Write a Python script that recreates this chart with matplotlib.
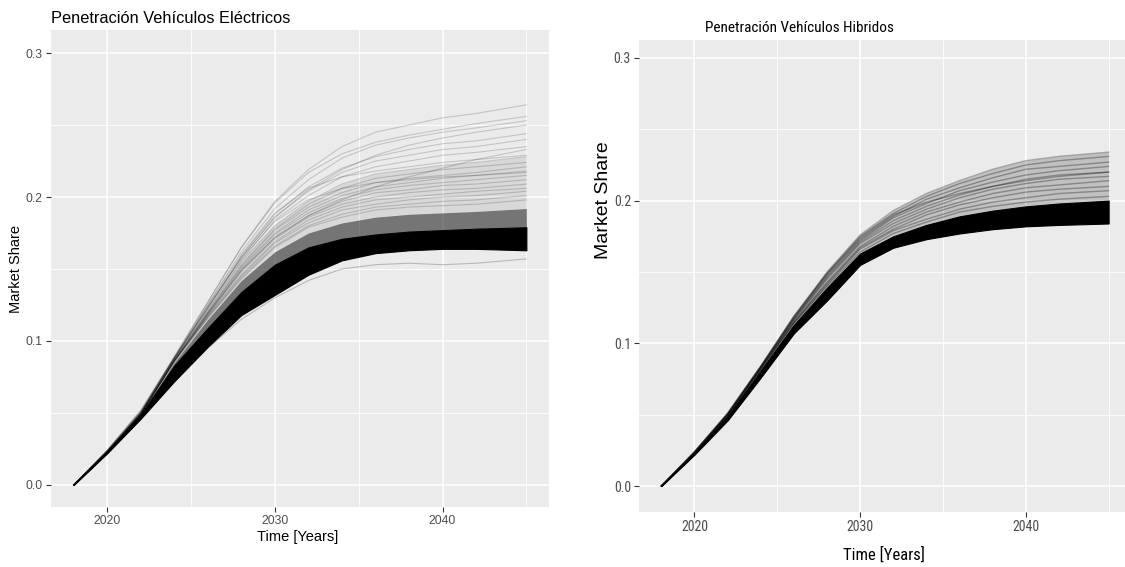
import matplotlib.pyplot as plt

W, H = 1125, 567

years = [2018, 2020, 2022, 2024, 2026, 2028, 2030, 2032, 2034, 2036, 2038, 2040, 2042, 2045]

# electric vehicles: edges of the dense black core and of the dark grey zone above it
ev_low = [0, .022, .046, .072, .096, .118, .132, .146, .156, .161, .163, .164, .164, .163]
ev_core = [0, .023, .049, .083, .109, .134, .153, .165, .171, .174, .176, .177, .178, .179]
ev_dense = [0, .023, .049, .085, .115, .142, .162, .175, .182, .186, .188, .189, .190, .192]
ev_mid = [0, .023, .050, .087, .122, .156, .181, .197, .209, .216, .219, .222, .224, .228]
ev_outlier = [0, .022, .046, .072, .095, .115, .130, .142, .150, .153, .154, .153, .154, .157]
ev_paths = [
    [0, .024, .052, .089, .127, .165, .197, .219, .235, .245, .250, .255, .258, .264],
    [0, .024, .051, .089, .127, .165, .196, .217, .230, .238, .243, .247, .251, .256],
    [0, .024, .051, .088, .125, .162, .192, .212, .227, .236, .241, .245, .248, .253],
    [0, .023, .050, .088, .123, .158, .186, .205, .219, .229, .236, .241, .245, .250],
    [0, .023, .050, .088, .123, .159, .188, .207, .220, .228, .233, .237, .239, .244],
    [0, .023, .050, .088, .123, .158, .186, .204, .217, .225, .229, .233, .235, .240],
    [0, .023, .050, .087, .122, .156, .184, .201, .214, .221, .225, .229, .231, .235],
    [0, .023, .050, .088, .125, .160, .189, .206, .214, .218, .221, .224, .226, .229],
    [0, .023, .050, .087, .121, .155, .180, .197, .209, .216, .219, .222, .224, .228],
    [0, .023, .049, .087, .120, .153, .178, .195, .206, .213, .216, .219, .221, .224],
    [0, .023, .049, .087, .120, .152, .177, .193, .203, .210, .213, .215, .217, .221],
    [0, .023, .049, .086, .119, .151, .175, .191, .201, .207, .210, .213, .215, .218],
    [0, .023, .049, .086, .119, .150, .174, .189, .199, .205, .208, .210, .212, .215],
    [0, .023, .049, .086, .118, .149, .172, .187, .197, .203, .205, .208, .209, .212],
    [0, .023, .049, .086, .118, .148, .171, .186, .195, .200, .203, .205, .206, .209],
    [0, .023, .049, .086, .117, .146, .169, .184, .193, .198, .200, .202, .204, .206],
    [0, .023, .049, .086, .117, .145, .168, .182, .191, .195, .198, .200, .201, .204],
    [0, .023, .049, .086, .116, .144, .166, .180, .188, .193, .195, .197, .198, .201],
    [0, .023, .049, .085, .116, .143, .165, .179, .186, .191, .193, .194, .195, .198],
    [0, .023, .049, .086, .119, .149, .172, .187, .198, .207, .214, .220, .226, .233],
    [0, .024, .051, .088, .124, .157, .183, .198, .206, .210, .212, .214, .215, .217],
]

# hybrid vehicles
hy_low = [0, .022, .046, .076, .107, .130, .155, .167, .173, .177, .180, .182, .183, .184]
hy_core = [0, .023, .049, .081, .113, .139, .163, .175, .183, .189, .193, .196, .198, .200]
hy_paths = [
    [0, .024, .051, .084, .119, .150, .176, .193, .205, .214, .222, .228, .231, .234],
    [0, .024, .051, .084, .118, .149, .175, .191, .203, .212, .219, .225, .228, .231],
    [0, .024, .050, .083, .118, .148, .173, .189, .201, .209, .216, .222, .224, .227],
    [0, .023, .050, .083, .117, .147, .172, .188, .198, .207, .213, .218, .221, .224],
    [0, .023, .050, .083, .117, .146, .171, .186, .196, .204, .210, .215, .218, .220],
    [0, .023, .050, .083, .116, .145, .170, .184, .194, .202, .208, .212, .215, .217],
    [0, .023, .050, .082, .115, .143, .168, .182, .192, .199, .205, .209, .211, .214],
    [0, .023, .049, .082, .115, .142, .167, .180, .190, .197, .202, .206, .208, .210],
    [0, .023, .049, .082, .114, .141, .166, .179, .187, .194, .199, .202, .205, .207],
    [0, .023, .049, .081, .114, .140, .164, .177, .185, .192, .196, .199, .201, .203],
    [0, .024, .051, .084, .119, .149, .174, .190, .199, .205, .210, .214, .217, .220],
]

x_ticks = [2020, 2030, 2040]
y_ticks = [0.0, 0.1, 0.2, 0.3]
y_labels = ['0.0', '0.1', '0.2', '0.3']

REG = ['Liberation Sans', 'DejaVu Sans']
NAR = ['Roboto Condensed', 'Archivo Narrow', 'Liberation Sans', 'DejaVu Sans']


def px_rect(x0, y0, x1, y1):
    return [x0 / W, 1 - y1 / H, (x1 - x0) / W, (y1 - y0) / H]


def style(ax, ylim, fam, fs):
    ax.set_facecolor('#EBEBEB')
    for s in ax.spines.values():
        s.set_visible(False)
    ax.set_xlim(2016.65, 2046.35)
    ax.set_ylim(*ylim)
    ax.set_xticks(x_ticks)
    ax.set_xticks([2025, 2035, 2045], minor=True)
    ax.set_yticks(y_ticks)
    ax.set_yticks([0.05, 0.15, 0.25], minor=True)
    ax.set_yticklabels(y_labels)
    ax.grid(which='major', color='white', lw=1.1)
    ax.grid(which='minor', color='white', lw=0.6)
    ax.set_axisbelow(True)
    ax.tick_params(which='major', length=3.8, width=0.8, color='#333333',
                   labelcolor='#4d4d4d', labelsize=fs, pad=2)
    ax.tick_params(which='minor', length=0)
    for lab in ax.get_xticklabels() + ax.get_yticklabels():
        lab.set_family(fam)


fig = plt.figure(figsize=(W / 100, H / 100), dpi=100)
fig.patch.set_facecolor('white')

# left: electric
ax1 = fig.add_axes(px_rect(51, 30, 549, 507))
style(ax1, (-0.0153, 0.316), REG, 8.8)
ax1.fill_between(years, ev_dense, ev_mid, color='black', alpha=0.08, lw=0)
for p in ev_paths:
    ax1.plot(years, p, color='black', alpha=0.17, lw=0.8)
ax1.plot(years, ev_outlier, color='black', alpha=0.22, lw=0.8)
ax1.fill_between(years, ev_core, ev_dense, color='black', alpha=0.5, lw=0)
ax1.fill_between(years, ev_low, ev_core, color='black', lw=0.8, edgecolor='black')

# right: hybrid
ax2 = fig.add_axes(px_rect(639, 40, 1131, 512))
style(ax2, (-0.0182, 0.3126), NAR, 10)
ax2.fill_between(years, hy_core, hy_paths[0], color='black', alpha=0.18, lw=0)
for p in hy_paths:
    ax2.plot(years, p, color='black', alpha=0.3, lw=1.0)
ax2.fill_between(years, hy_low, hy_core, color='black', lw=0.8, edgecolor='black')

fig.text(51 / W, 1 - 23 / H, 'Penetración Vehículos Eléctricos', family=REG,
         fontsize=11.8, ha='left', va='baseline')
fig.text(298 / W, 1 - 537 / H, 'Time [Years]', family=REG, fontsize=10.5,
         ha='center', va='center')
fig.text(16.5 / W, 1 - 269 / H, 'Market Share', family=REG, fontsize=10.5,
         rotation=90, ha='center', va='center')

fig.text(705 / W, 1 - 32 / H, 'Penetración Vehículos Hibridos', family=NAR,
         fontsize=11, ha='left', va='baseline')
fig.text(884 / W, 1 - 555 / H, 'Time [Years]', family=NAR, fontsize=12,
         ha='center', va='center')
fig.text(603 / W, 1 - 200 / H, 'Market Share', family=REG, fontsize=14,
         rotation=90, ha='center', va='center')

fig.savefig('out.png', dpi=100)
